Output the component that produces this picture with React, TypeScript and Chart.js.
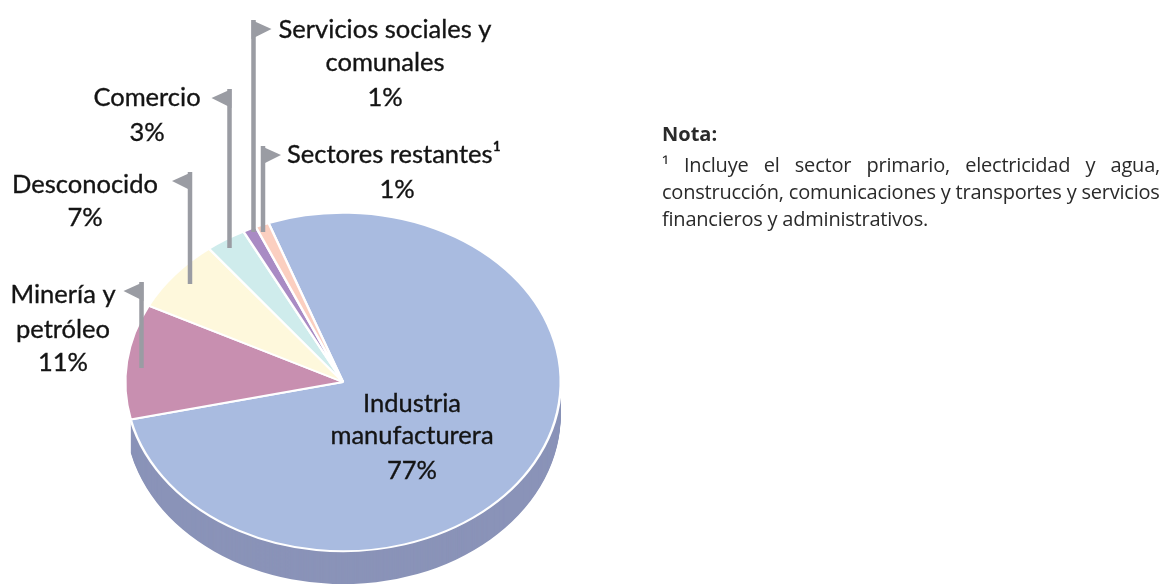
import React, { useEffect, useRef } from "react";
import { Chart, registerables } from "chart.js";

Chart.register(...registerables);

const categories = ["Industria manufacturera", "Minería y petróleo", "Desconocido", "Comercio", "Servicios sociales y comunales", "Sectores restantes"];
const shares = [77, 11, 7, 3, 1, 1];
const labelLines = [
  ["Industria", "manufacturera"],
  ["Minería y", "petróleo"],
  ["Desconocido"],
  ["Comercio"],
  ["Servicios sociales y", "comunales"],
  ["Sectores restantes¹"],
];
const sliceColors = ["#a9bbe0", "#c88fb0", "#fef8dc", "#cfecec", "#a98bc4", "#fbcfc0"];
const noteTitle = "Nota:";
const noteLines = [
  "¹ Incluye el sector primario, electricidad y agua,",
  "construcción, comunicaciones y transportes y servicios",
  "financieros y administrativos.",
];

const SQUASH = 0.777;
const CENTER_Y = 382;
const DEPTH = 33;
const DEPTH_COLOR = "#8a93b8";
const FLAG_COLOR = "#9a9ca3";
const TEXT_COLOR = "#141414";
const FONT = '25.5px Lato, "Noto Sans", sans-serif';

// text anchor: centre x, first baseline, line step, percent baseline
const labelLayout = [
  { x: 412, y: 412, step: 32, py: 479, px: 412 },
  { x: 63, y: 303, step: 35, py: 371, px: 63 },
  { x: 85, y: 193, step: 33, py: 226, px: 85 },
  { x: 147, y: 106, step: 35, py: 141, px: 147 },
  { x: 385, y: 38, step: 33, py: 106, px: 385 },
  { x: 394, y: 163, step: 35, py: 198, px: 397 },
];
// pole x, top, bottom, triangle direction
const flags = [
  { x: 141.5, top: 282, bottom: 368, dir: -1 },
  { x: 190, top: 172, bottom: 284, dir: -1 },
  { x: 229.5, top: 89, bottom: 248, dir: -1 },
  { x: 253.5, top: 20, bottom: 232, dir: 1 },
  { x: 263, top: 146, bottom: 232, dir: 1 },
];

const piePlugin = {
  id: "tiltedPie",
  beforeDatasetsDraw(chart: any) {
    const { ctx } = chart;
    const arcs = chart.getDatasetMeta(0).data;
    const a = arcs[0];
    ctx.save();
    ctx.translate(0, CENTER_Y);
    ctx.scale(1, SQUASH);
    ctx.translate(0, -a.y);
    ctx.fillStyle = DEPTH_COLOR;
    for (let d = DEPTH; d >= 1; d--) {
      ctx.beginPath();
      ctx.moveTo(a.x, a.y + d / SQUASH);
      ctx.arc(a.x, a.y + d / SQUASH, a.outerRadius, a.startAngle, a.endAngle);
      ctx.closePath();
      ctx.fill();
    }
  },
  afterDatasetsDraw(chart: any) {
    const { ctx } = chart;
    ctx.restore();
    ctx.save();
    ctx.fillStyle = FLAG_COLOR;
    flags.forEach((f) => {
      ctx.fillRect(f.x - 2.25, f.top, 4.5, f.bottom - f.top);
      ctx.beginPath();
      ctx.moveTo(f.x - f.dir * 2, f.top);
      ctx.lineTo(f.x + f.dir * 18, f.top + 9);
      ctx.lineTo(f.x - f.dir * 2, f.top + 19);
      ctx.closePath();
      ctx.fill();
    });
    ctx.fillStyle = TEXT_COLOR;
    ctx.strokeStyle = TEXT_COLOR;
    ctx.lineWidth = 0.35;
    ctx.font = FONT;
    ctx.textAlign = "center";
    ctx.textBaseline = "alphabetic";
    const put = (t: string, x: number, y: number) => {
      ctx.fillText(t, x, y);
      ctx.strokeText(t, x, y);
    };
    labelLines.forEach((lines, i) => {
      const l = labelLayout[i];
      lines.forEach((t, j) => put(t, l.x, l.y + j * l.step));
      put(`${shares[i]}%`, l.px, l.py);
    });
    ctx.restore();
  },
};

export default function App() {
  const ref = useRef<HTMLCanvasElement>(null);
  useEffect(() => {
    document.body.style.margin = "0";
    const chart = new Chart(ref.current!, {
      type: "pie",
      data: {
        labels: categories,
        datasets: [
          {
            data: shares,
            backgroundColor: sliceColors,
            borderColor: "#ffffff",
            borderWidth: 2.5,
            clip: false,
          } as any,
        ],
      },
      options: {
        responsive: false,
        animation: false,
        rotation: 340,
        layout: { padding: { left: 124, right: 603, top: 77, bottom: 67 } },
        plugins: { legend: { display: false }, tooltip: { enabled: false } },
      },
      plugins: [piePlugin],
    });
    return () => chart.destroy();
  }, []);
  const noteStyle: React.CSSProperties = {
    position: "absolute",
    left: 662,
    width: 498,
    fontFamily: '"Open Sans", sans-serif',
    fontSize: 20,
    lineHeight: "27px",
    color: "#2a2a2a",
    whiteSpace: "nowrap",
    letterSpacing: -0.22,
    filter: "blur(0.7px)",
  };
  return (
    <div style={{ position: "absolute", left: 0, top: 0, width: 1165, height: 584, overflow: "hidden", background: "#fff" }}>
      <canvas ref={ref} width={1165} height={584} style={{ display: "block", filter: "blur(0.7px)" }} />
      <div style={{ ...noteStyle, top: 120, fontWeight: 700, letterSpacing: 0 }}>{noteTitle}</div>
      <div style={{ ...noteStyle, top: 151 }}>
        <div style={{ textAlign: "justify", textAlignLast: "justify", whiteSpace: "normal" }}>{noteLines[0]}</div>
        <div>{noteLines[1]}</div>
        <div>{noteLines[2]}</div>
      </div>
    </div>
  );
}
